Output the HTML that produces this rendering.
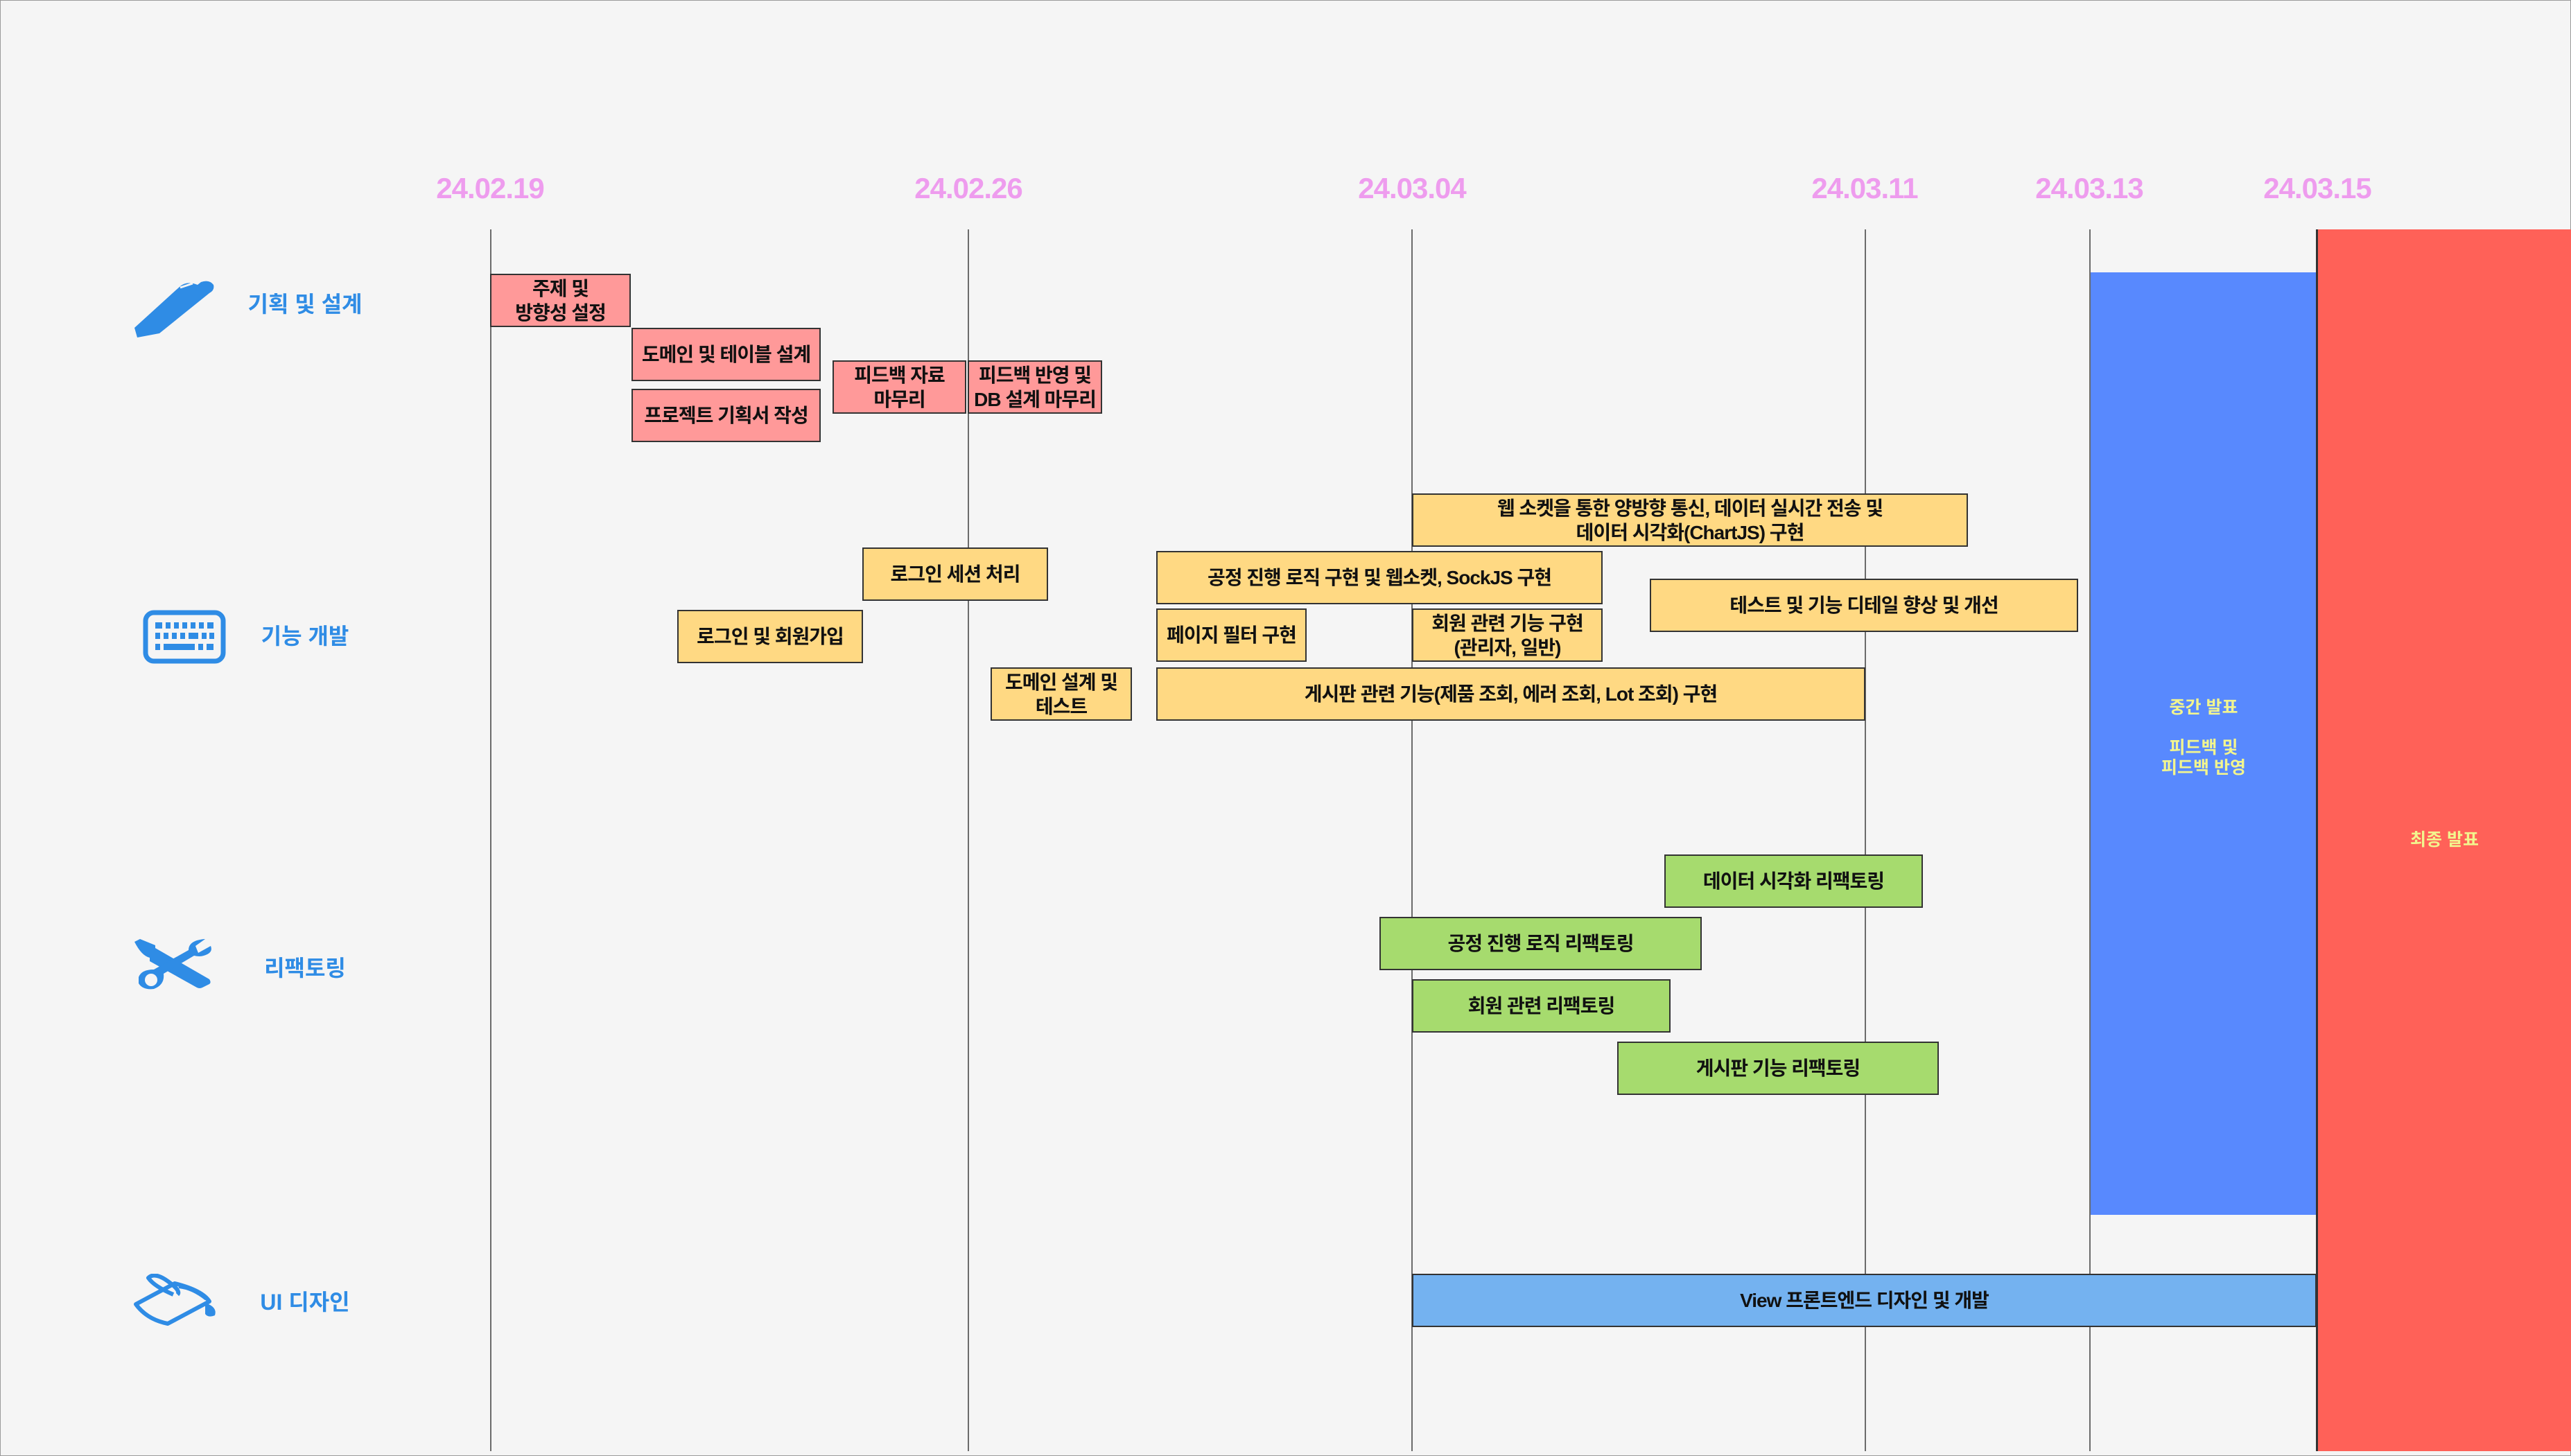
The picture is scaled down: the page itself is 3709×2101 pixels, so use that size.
<!DOCTYPE html>
<html><head><meta charset="utf-8"><style>
html,body{margin:0;padding:0}
body{width:3709px;height:2101px;position:relative;background:#f5f5f5;overflow:hidden;font-family:"Liberation Sans","Noto Sans CJK KR",sans-serif}
.frame{position:absolute;left:0;top:0;width:3707px;height:2099px;border:1px solid #9a9a9a}
.vl{position:absolute;top:331px;height:1763px;width:2px;background:#6b6b6b}
.dt{position:absolute;top:248px;width:300px;margin-left:-150px;text-align:center;color:#EE9CEE;font-weight:bold;font-size:42px;letter-spacing:-1px}
.b{position:absolute;box-sizing:border-box;border:2px solid #333;display:flex;align-items:center;justify-content:center;text-align:center;font-weight:bold;font-size:28px;letter-spacing:-1px;line-height:35px;color:#111;white-space:nowrap}
.p{background:#FF9999}
.y{background:#FFD983}
.g{background:#A6DB6E}
.lb{background:#74B2F0}
.cat{position:absolute;color:#2F8CE5;font-weight:bold;font-size:32px;width:300px;margin-left:-150px;text-align:center}
.big{position:absolute;display:flex;align-items:center;justify-content:center;text-align:center;color:#F2F58E;font-weight:bold;font-size:25px;line-height:29px}
</style></head><body>
<div class="frame"></div>

<div class="dt" style="left:707px">24.02.19</div>
<div class="dt" style="left:1397px">24.02.26</div>
<div class="dt" style="left:2037px">24.03.04</div>
<div class="dt" style="left:2690px">24.03.11</div>
<div class="dt" style="left:3014px">24.03.13</div>
<div class="dt" style="left:3343px">24.03.15</div>

<div class="vl" style="left:707px"></div>
<div class="vl" style="left:1396px"></div>
<div class="vl" style="left:2036px"></div>
<div class="vl" style="left:2690px"></div>
<div class="vl" style="left:3014px"></div>

<div class="big" style="left:3016px;top:393px;width:326px;height:1360px;background:#5889FE;align-items:flex-start;padding-top:0"><div style="margin-top:614px">중간 발표<br><br>피드백 및<br>피드백 반영</div></div>
<div style="position:absolute;left:3341px;top:331px;width:3px;height:1763px;background:#333"></div>
<div class="big" style="left:3344px;top:331px;width:365px;height:1763px;background:#FF6158"><div>최종 발표</div></div>

<svg style="position:absolute;left:190px;top:405px" width="125" height="85" viewBox="0 0 125 85"><path d="M8 82 L4 68 L70 8 Q80 0 95 6 L100 2 Q112 -2 118 6 Q120 14 112 18 L40 76 Z" fill="#2F8CE5"/><path d="M70 10 L88 4" stroke="#f5f5f5" stroke-width="3"/></svg>
<div class="cat" style="left:440px;top:414px">기획 및 설계</div>

<svg style="position:absolute;left:206px;top:880px" width="120" height="78" viewBox="0 0 120 78"><rect x="4" y="4" width="112" height="70" rx="12" fill="none" stroke="#2F8CE5" stroke-width="7"/><g fill="#2F8CE5"><rect x="18" y="18" width="10" height="9"/><rect x="33" y="18" width="7" height="9"/><rect x="45" y="18" width="7" height="9"/><rect x="57" y="18" width="7" height="9"/><rect x="69" y="18" width="7" height="9"/><rect x="81" y="18" width="7" height="9"/><rect x="93" y="18" width="9" height="9"/><rect x="18" y="33" width="7" height="9"/><rect x="30" y="33" width="7" height="9"/><rect x="42" y="33" width="7" height="9"/><rect x="54" y="33" width="7" height="9"/><rect x="66" y="33" width="14" height="9"/><rect x="85" y="33" width="7" height="9"/><rect x="96" y="33" width="7" height="9"/><rect x="18" y="49" width="7" height="9"/><rect x="30" y="49" width="45" height="9"/><rect x="80" y="49" width="7" height="9"/><rect x="92" y="49" width="10" height="9"/></g></svg>
<div class="cat" style="left:440px;top:893px">기능 개발</div>

<svg style="position:absolute;left:192px;top:1355px" width="122" height="80" viewBox="0 0 122 80"><g fill="#2F8CE5"><path d="M2 4 L10 0 L32 9 L32 13 L110 58 Q114 64 108 66 L100 70 Q96 72 92 70 L24 32 L24 27 Q12 24 2 4Z"/><path d="M8 55 Q12 44 30 44 L80 16 Q80 6 92 2 Q100 0 104 0 L90 10 L94 20 L112 10 Q116 20 102 24 Q96 26 88 24 L44 50 Q46 66 30 72 Q14 74 8 64Z"/></g><circle cx="26" cy="59" r="9" fill="#f5f5f5"/></svg>
<div class="cat" style="left:440px;top:1372px">리팩토링</div>

<svg style="position:absolute;left:192px;top:1838px" width="122" height="76" viewBox="0 0 122 76"><g fill="none" stroke="#2F8CE5" stroke-width="6" stroke-linejoin="round"><path d="M4 44 L60 14 Q100 24 110 40 L50 72 Q20 66 4 44Z"/><path d="M58 30 Q30 18 22 6 Q30 -2 46 8 Q70 24 64 30" /><path d="M66 18 Q86 20 106 36"/></g><path d="M104 42 Q122 48 118 60 Q108 64 104 58Z" fill="#2F8CE5"/></svg>
<div class="cat" style="left:440px;top:1854px">UI 디자인</div>

<div class="b p" style="left:707px;top:395px;width:203px;height:77px">주제 및<br>방향성 설정</div>
<div class="b p" style="left:911px;top:473px;width:273px;height:77px">도메인 및 테이블 설계</div>
<div class="b p" style="left:911px;top:561px;width:273px;height:77px">프로젝트 기획서 작성</div>
<div class="b p" style="left:1201px;top:520px;width:193px;height:77px">피드백 자료<br>마무리</div>
<div class="b p" style="left:1396px;top:520px;width:194px;height:77px">피드백 반영 및<br>DB 설계 마무리</div>

<div class="b y" style="left:2037px;top:712px;width:802px;height:77px">웹 소켓을 통한 양방향 통신, 데이터 실시간 전송 및<br>데이터 시각화(ChartJS) 구현</div>
<div class="b y" style="left:1244px;top:790px;width:268px;height:77px">로그인 세션 처리</div>
<div class="b y" style="left:1668px;top:795px;width:644px;height:77px">공정 진행 로직 구현 및 웹소켓, SockJS 구현</div>
<div class="b y" style="left:2380px;top:835px;width:618px;height:77px">테스트 및 기능 디테일 향상 및 개선</div>
<div class="b y" style="left:977px;top:880px;width:268px;height:77px">로그인 및 회원가입</div>
<div class="b y" style="left:1668px;top:878px;width:217px;height:77px">페이지 필터 구현</div>
<div class="b y" style="left:2037px;top:878px;width:275px;height:77px">회원 관련 기능 구현<br>(관리자, 일반)</div>
<div class="b y" style="left:1429px;top:963px;width:204px;height:77px">도메인 설계 및<br>테스트</div>
<div class="b y" style="left:1668px;top:963px;width:1023px;height:77px">게시판 관련 기능(제품 조회, 에러 조회, Lot 조회) 구현</div>

<div class="b g" style="left:2401px;top:1233px;width:373px;height:77px">데이터 시각화 리팩토링</div>
<div class="b g" style="left:1990px;top:1323px;width:465px;height:77px">공정 진행 로직 리팩토링</div>
<div class="b g" style="left:2037px;top:1413px;width:373px;height:77px">회원 관련 리팩토링</div>
<div class="b g" style="left:2333px;top:1503px;width:464px;height:77px">게시판 기능 리팩토링</div>

<div class="b lb" style="left:2037px;top:1838px;width:1305px;height:77px">View 프론트엔드 디자인 및 개발</div>
</body></html>
